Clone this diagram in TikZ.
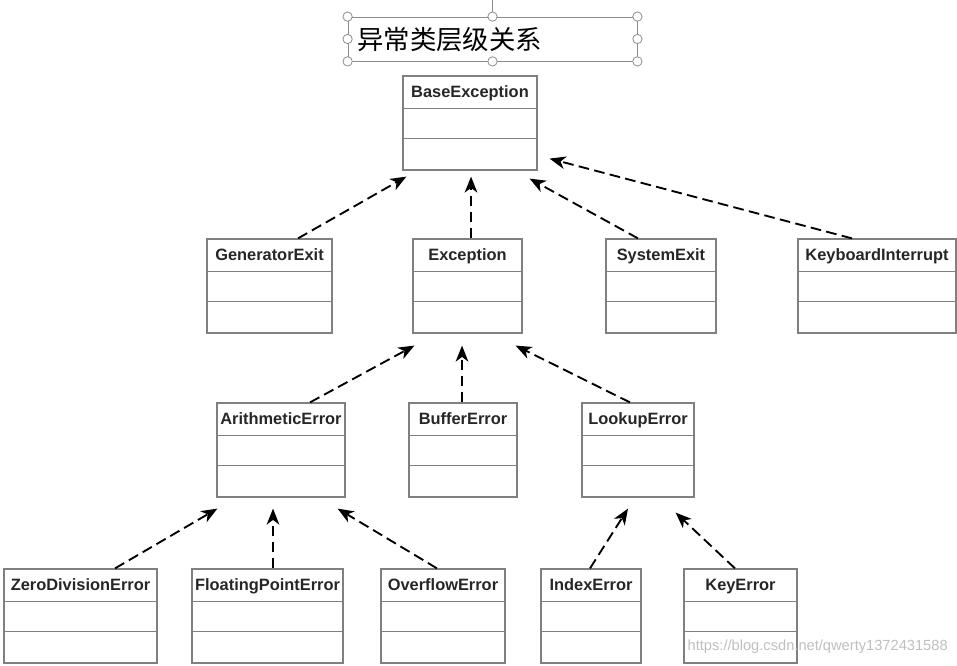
\documentclass[tikz,border=0pt]{standalone}
\usepackage{fontspec}
\newfontfamily\clsfont{Liberation Sans}
\newfontfamily\cjkfont{Noto Sans CJK SC}
\usetikzlibrary{calc,arrows.meta}
\tikzset{%
  cls/.style = { draw=black!50, line width=0.9pt, inner sep=0pt },
  clsline/.style = { draw=black!50, line width=0.9pt },
  clsname/.style = { font=\clsfont\bfseries\fontsize{12.3}{14}\selectfont, text=black!85, inner sep=0pt, text height=9pt, text depth=2.6pt },
  inherit/.style = { line width=1.4pt, dash pattern=on 8pt off 4pt, -{Stealth[length=12pt,width=9.5pt,inset=3.5pt]} },
  handle/.style = { circle, draw=black!45, fill=white, line width=0.6pt, minimum size=7pt, inner sep=0pt }
}

\begin{document}
\begin{tikzpicture}[x=0.75pt,y=-0.75pt]
  \useasboundingbox (0,0) rectangle (957,666);

  % Title box
  \node[draw=black!45, line width=0.6pt, minimum width=289*0.75pt, minimum height=44*0.75pt, inner sep=0pt] (title) at (492.5,39) {};
  \draw[black!45,line width=0.6pt] (title.north) -- (title.north |- 0,0);
  \node[anchor=west, font=\cjkfont\fontsize{19.8}{22}\selectfont, inner sep=0pt] (titletext) at (357,40) {异常类层级关系};
  \foreach \a in {north west,north,north east,east,south east,south,south west,west} {
    \node[handle] (h-\a) at (title.\a) {};
  }

  % Classes
  \foreach \n/\xa/\xb/\yt/\txt in {base/403/537/76/BaseException,
      gen/207/332/239/GeneratorExit, exc/413/522/239/Exception,
      sys/606/716/239/SystemExit, kbd/798/956/239/KeyboardInterrupt,
      arith/217/345/403/ArithmeticError, buf/409/517/403/BufferError,
      look/582/694/403/LookupError,
      zero/4/157/569/ZeroDivisionError, float/192/343/569/FloatingPointError,
      over/381/505/569/OverflowError, index/541/641/569/IndexError,
      key/684/797/569/KeyError} {
    \node[cls, minimum width=(\xb-\xa)*0.75pt, minimum height=94*0.75pt] (\n) at ({(\xa+\xb)/2},\yt+47) {};
    \draw[clsline] ($(\n.north west)+(0,33)$) -- ($(\n.north east)+(0,33)$);
    \draw[clsline] ($(\n.north west)+(0,63)$) -- ($(\n.north east)+(0,63)$);
    \node[clsname] (\n-name) at ($(\n.north)+(0,17.5)$) {\txt};
  }

  % ROW 1 -> BaseException
  \draw[inherit] ($(gen.north)+(28.5,0)$) -- ($(base.south west)+(4,6)$);
  \draw[inherit] ($(exc.north)+(3.5,0)$) -- ($(base.south)+(1,6)$);
  \draw[inherit] ($(sys.north)+(-23,0)$) -- ($(base.south east)+(-8,8)$);
  \draw[inherit] ($(kbd.north)+(-25,0)$) -- ($(base.south east)+(12,-12)$);

  % ROW 2 -> Exception
  \draw[inherit] ($(arith.north)+(29,0)$) -- ($(exc.south west)+(2,12)$);
  \draw[inherit] ($(buf.north)+(-1,0)$) -- ($(exc.south)+(-5.5,12)$);
  \draw[inherit] ($(look.north)+(-8,0)$) -- ($(exc.south east)+(-7,12)$);

  % ROW 3
  \draw[inherit] ($(zero.north)+(34.5,0)$) -- ($(arith.south west)+(1,11)$);
  \draw[inherit] ($(float.north)+(5.5,0)$) -- ($(arith.south)+(-8,11)$);
  \draw[inherit] ($(over.north)+(-6,0)$) -- ($(arith.south east)+(-8,11)$);
  \draw[inherit] ($(index.north)+(-1,0)$) -- ($(look.south)+(-10,11)$);
  \draw[inherit] ($(key.north)+(-5.5,0)$) -- ($(look.south east)+(-19,15)$);

  \node[anchor=east, font=\clsfont\fontsize{11}{13}\selectfont, text=black!25, inner sep=0pt] (mark) at (948,647) {https://blog.csdn.net/qwerty1372431588};
\end{tikzpicture}
\end{document}
